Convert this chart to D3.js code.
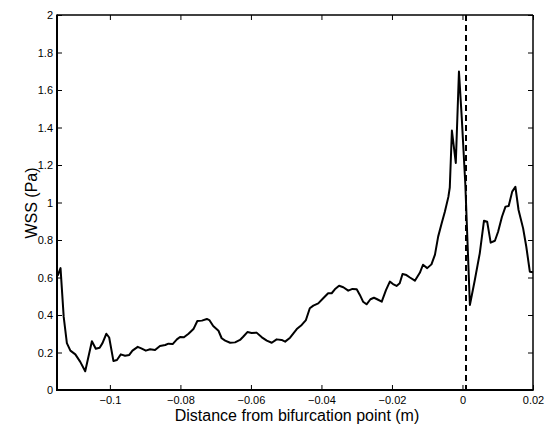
<!DOCTYPE html>
<html>
<head>
<meta charset="utf-8">
<script src="https://cdn.jsdelivr.net/npm/d3@7/dist/d3.min.js"></script>
<style>
  html, body { margin: 0; padding: 0; background: #fff; }
  svg { display: block; }
  text { font-family: "Liberation Sans", Arial, Helvetica, sans-serif; fill: #000; }
</style>
</head>
<body>
<svg id="chart" width="548" height="428"></svg>
<script>
// Distance from the bifurcation point (m)
const distance = [
  -0.1148, -0.1140, -0.1131, -0.1122, -0.1112, -0.1098, -0.1084, -0.1070,
  -0.1051, -0.1040, -0.1029, -0.1021, -0.1010, -0.1002, -0.0990, -0.0980,
  -0.0969, -0.0957, -0.0945, -0.0936, -0.0921, -0.0911, -0.0898, -0.0886,
  -0.0872, -0.0858, -0.0843, -0.0834, -0.0822, -0.0810, -0.0801, -0.0790,
  -0.0777, -0.0763, -0.0752, -0.0739, -0.0725, -0.0718, -0.0707, -0.0692,
  -0.0683, -0.0673, -0.0659, -0.0645, -0.0631, -0.0622, -0.0610, -0.0598,
  -0.0584, -0.0569, -0.0555, -0.0541, -0.0527, -0.0513, -0.0503, -0.0489,
  -0.0470, -0.0456, -0.0444, -0.0433, -0.0423, -0.0409, -0.0395, -0.0381,
  -0.0371, -0.0362, -0.0350, -0.0338, -0.0324, -0.0312, -0.0300, -0.0291,
  -0.0282, -0.0272, -0.0261, -0.0251, -0.0242, -0.0229, -0.0217, -0.0206,
  -0.0197, -0.0187, -0.0178, -0.0170, -0.0159, -0.0149, -0.0135, -0.0121,
  -0.0112, -0.0100, -0.0088, -0.0078, -0.0069, -0.0059, -0.0050, -0.0040,
  -0.0036, -0.0030, -0.0019, -0.0010, -0.0002, 0.0008, 0.0021, 0.0035,
  0.0049, 0.0061, 0.0070, 0.0080, 0.0092, 0.0101, 0.0112, 0.0122,
  0.0131, 0.0141, 0.0150, 0.0159, 0.0172, 0.0181, 0.0191, 0.0200
];

// Wall shear stress (Pa)
const wss = [
  0.61, 0.65, 0.39, 0.25, 0.21, 0.19, 0.15, 0.10,
  0.26, 0.22, 0.225, 0.25, 0.30, 0.28, 0.155, 0.16,
  0.19, 0.183, 0.187, 0.21, 0.23, 0.222, 0.21, 0.217,
  0.213, 0.235, 0.24, 0.247, 0.245, 0.27, 0.283, 0.281,
  0.30, 0.325, 0.368, 0.37, 0.379, 0.373, 0.341, 0.316,
  0.276, 0.263, 0.252, 0.254, 0.267, 0.284, 0.309, 0.304,
  0.306, 0.281, 0.263, 0.252, 0.27, 0.267, 0.258, 0.279,
  0.325, 0.347, 0.373, 0.436, 0.45, 0.462, 0.489, 0.516,
  0.516, 0.537, 0.556, 0.548, 0.53, 0.539, 0.537, 0.507,
  0.471, 0.457, 0.484, 0.492, 0.484, 0.471, 0.533, 0.578,
  0.565, 0.555, 0.569, 0.619, 0.613, 0.600, 0.583, 0.625,
  0.668, 0.650, 0.670, 0.722, 0.818, 0.889, 0.951, 1.03,
  1.08, 1.384, 1.211, 1.699, 1.45, 1.10, 0.453, 0.587,
  0.729, 0.903, 0.898, 0.786, 0.796, 0.844, 0.924, 0.978,
  0.981, 1.058, 1.084, 0.96, 0.862, 0.764, 0.631, 0.628
];

// Position of the bifurcation marker (m)
const bifurcation = 0.001;

const xTickValues = [-0.1, -0.08, -0.06, -0.04, -0.02, 0, 0.02];
const xTickLabels = ["\u22120.1", "\u22120.08", "\u22120.06", "\u22120.04", "\u22120.02", "0", "0.02"];
const yTickValues = [0, 0.2, 0.4, 0.6, 0.8, 1, 1.2, 1.4, 1.6, 1.8, 2];
const yTickLabels = ["0", "0.2", "0.4", "0.6", "0.8", "1", "1.2", "1.4", "1.6", "1.8", "2"];

const xTitle = "Distance from bifurcation point (m)";
const yTitle = "WSS (Pa)";

(function draw() {
  const svg = d3.select("#chart");
  const plotL = 57, plotR = 533, plotT = 15, plotB = 390;

  const x = d3.scaleLinear().domain([-0.115, 0.02]).range([plotL, plotR]);
  const y = d3.scaleLinear().domain([0, 2]).range([plotB, plotT]);

  svg.append("rect").attr("width", 548).attr("height", 428).attr("fill", "#fff");

  // Axes with inward ticks on all four sides
  const xLabel = d => xTickLabels[xTickValues.indexOf(d)];
  const yLabel = d => yTickLabels[yTickValues.indexOf(d)];

  const gx = svg.append("g").attr("transform", `translate(0,${plotB})`)
    .call(d3.axisBottom(x).tickValues(xTickValues).tickFormat(xLabel)
      .tickSizeInner(-5).tickSizeOuter(0).tickPadding(6));
  const gy = svg.append("g").attr("transform", `translate(${plotL},0)`)
    .call(d3.axisLeft(y).tickValues(yTickValues).tickFormat(yLabel)
      .tickSizeInner(-5).tickSizeOuter(0).tickPadding(4));
  const gt = svg.append("g").attr("transform", `translate(0,${plotT})`)
    .call(d3.axisTop(x).tickValues(xTickValues).tickFormat("")
      .tickSizeInner(-5).tickSizeOuter(0));
  const gr = svg.append("g").attr("transform", `translate(${plotR},0)`)
    .call(d3.axisRight(y).tickValues(yTickValues).tickFormat("")
      .tickSizeInner(-5).tickSizeOuter(0));

  [gx, gy, gt, gr].forEach(g => {
    g.select(".domain").remove();
    g.selectAll(".tick line").attr("stroke", "#000").attr("stroke-width", 1);
    g.selectAll(".tick text")
      .style("font-family", "'Liberation Sans', Arial, sans-serif")
      .style("font-size", "11px").attr("fill", "#000");
  });

  // Frame
  svg.append("line").attr("x1", plotL).attr("x2", plotR).attr("y1", plotT).attr("y2", plotT)
    .attr("stroke", "#000").attr("stroke-width", 1.3);
  svg.append("line").attr("x1", plotR).attr("x2", plotR).attr("y1", plotT).attr("y2", plotB)
    .attr("stroke", "#000").attr("stroke-width", 1.5);
  svg.append("line").attr("x1", plotL).attr("x2", plotL).attr("y1", plotT - 0.6).attr("y2", plotB + 1)
    .attr("stroke", "#000").attr("stroke-width", 2);
  svg.append("line").attr("x1", plotL - 1).attr("x2", plotR + 0.7).attr("y1", plotB).attr("y2", plotB)
    .attr("stroke", "#000").attr("stroke-width", 2);

  // Bifurcation marker
  svg.append("line")
    .attr("x1", x(bifurcation)).attr("x2", x(bifurcation))
    .attr("y1", y(2)).attr("y2", y(0))
    .attr("stroke", "#000").attr("stroke-width", 2)
    .attr("stroke-dasharray", "6,4");

  // WSS curve
  const line = d3.line().x((d, i) => x(distance[i])).y(d => y(d));
  svg.append("path")
    .datum(wss)
    .attr("d", line)
    .attr("fill", "none")
    .attr("stroke", "#000")
    .attr("stroke-width", 2)
    .attr("stroke-linejoin", "round");

  // Axis titles
  svg.append("text")
    .attr("x", 297).attr("y", 421)
    .attr("text-anchor", "middle")
    .style("font-size", "16px")
    .text(xTitle);

  svg.append("text")
    .attr("transform", "translate(37,203) rotate(-90)")
    .attr("text-anchor", "middle")
    .style("font-size", "16px")
    .text(yTitle);
})();
</script>
</body>
</html>
